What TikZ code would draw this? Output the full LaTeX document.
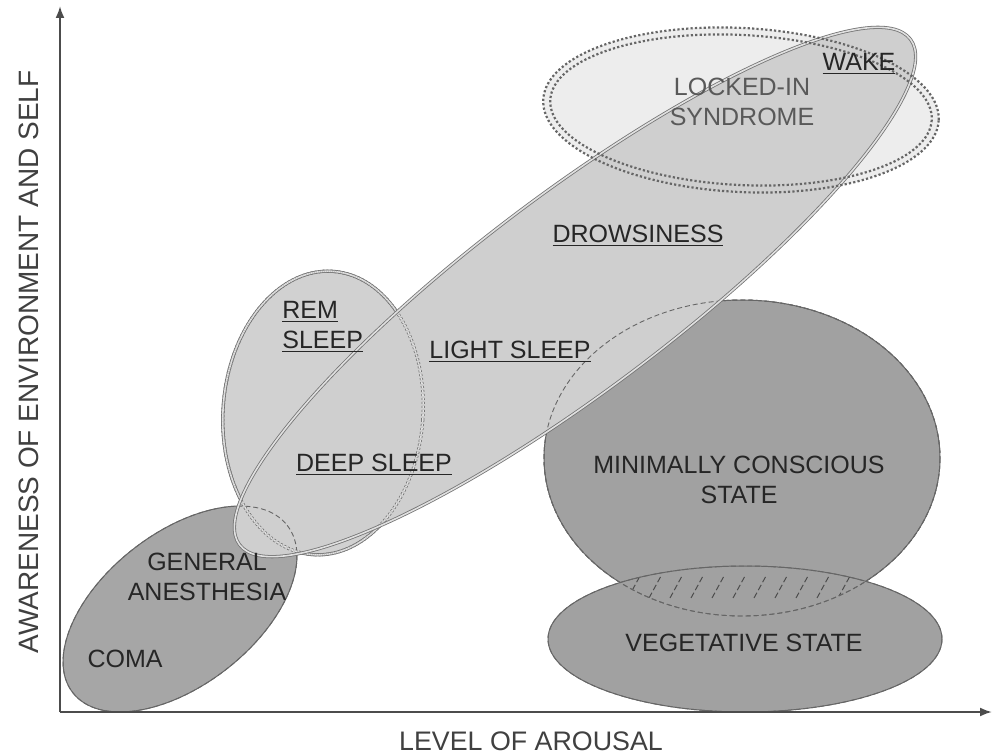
\documentclass[tikz,border=0pt]{standalone}
\usepackage{fontspec}
\setmainfont{Liberation Sans}
\usetikzlibrary{arrows.meta}

\newcommand{\comashape}{(coma) ellipse [x radius=136, y radius=76, rotate=38]}
\newcommand{\remshape}{(rem) ellipse [x radius=100, y radius=142, rotate=-4]}
\newcommand{\sleepshape}{(sleep) ellipse [x radius=420, y radius=98, rotate=37]}
\newcommand{\mcsshape}{(mcs) ellipse [x radius=198, y radius=158]}
\newcommand{\vegshape}{(veg) ellipse [x radius=197, y radius=73]}

\begin{document}
\begin{tikzpicture}[x=0.5pt, y=-0.5pt, font=\fontsize{12.5}{15}\selectfont,
  outline/.style={draw=black!60, line width=0.5pt},
  hidden/.style={draw=black!60, line width=0.45pt, dash pattern=on 2.5pt off 1.5pt},
  twin/.style={draw=black!55, double=black!12, double distance=0.8pt, line width=0.4pt},
  dots/.style={draw=black!60, line width=1.1pt, dash pattern=on 1.1pt off 1.1pt},
  txt/.style={text=black!85, align=center, inner sep=1pt}]

  \useasboundingbox (0,0) rectangle (992,754);

  \coordinate (coma) at (180,609);
  \coordinate (rem) at (323,413);
  \coordinate (sleep) at (575,292);
  \coordinate (locked) at (741,110);
  \coordinate (mcs) at (742,458);
  \coordinate (veg) at (745,639);

  % regions, back to front
  \fill[black!7] (locked) ellipse [x radius=198, y radius=82, rotate=-3];
  \filldraw[fill=black!35, outline] \comashape;
  \fill[black!18] \remshape;
  \path[twin] \remshape;
  \filldraw[fill=black!37, outline] \mcsshape;
  \filldraw[fill=black!37, outline] \vegshape;
  \begin{scope}
    \clip \mcsshape;
    \clip \vegshape;
    \foreach \x in {628,649,...,860}
      \draw[black!70, line width=0.5pt, dash pattern=on 3pt off 1.5pt] (\x,598) -- ++(12,-22);
  \end{scope}
  \path[hidden] \mcsshape;
  \path[hidden] \vegshape;
  \fill[black!19] \sleepshape;

  % outlines seen through the sleep region
  \path[hidden] \comashape;
  \path[hidden] \mcsshape;
  \path[twin, dash pattern=on 1pt off 1pt] \remshape;
  \path[twin] \sleepshape;
  \path[dots] (locked) ellipse [x radius=198, y radius=82, rotate=-3];
  \path[dots] (locked) ellipse [x radius=191, y radius=75, rotate=-3];

  % axes
  \coordinate (origin) at (60,712);
  \coordinate (ytip) at (60,6);
  \coordinate (xtip) at (992,712);
  \draw[black!70, line width=1pt, -{Latex[length=6pt, width=4.5pt]}] (origin) -- (ytip);
  \draw[black!70, line width=1pt, -{Latex[length=6pt, width=4.5pt]}] (origin) -- (xtip);
  \node[txt, text=black!75, font=\fontsize{13.4}{15}\selectfont] (arousal) at (531,741) {LEVEL OF AROUSAL};
  \node[txt, text=black!75, font=\fontsize{14}{16}\selectfont, rotate=90] (awareness) at (29,362) {AWARENESS OF ENVIRONMENT AND SELF};

  % labels
  \node[txt] (wake) at (859,64) {\underline{WAKE}};
  \node[txt, text=black!65] (lockedin) at (742,102) {LOCKED-IN\\SYNDROME};
  \node[txt] (drowsy) at (638,236) {\underline{DROWSINESS}};
  \node[txt, anchor=west, align=left] (remtxt) at (280,327) {\underline{REM}\\\underline{SLEEP}};
  \node[txt] (light) at (510,352) {\underline{LIGHT SLEEP}};
  \node[txt] (deep) at (374,465) {\underline{DEEP SLEEP}};
  \node[txt] (anest) at (207,577) {GENERAL\\ANESTHESIA};
  \node[txt] (comatxt) at (125,659) {COMA};
  \node[txt] (mcstxt) at (739,480) {MINIMALLY CONSCIOUS\\STATE};
  \node[txt] (vegtxt) at (744,643) {VEGETATIVE STATE};
\end{tikzpicture}
\end{document}
